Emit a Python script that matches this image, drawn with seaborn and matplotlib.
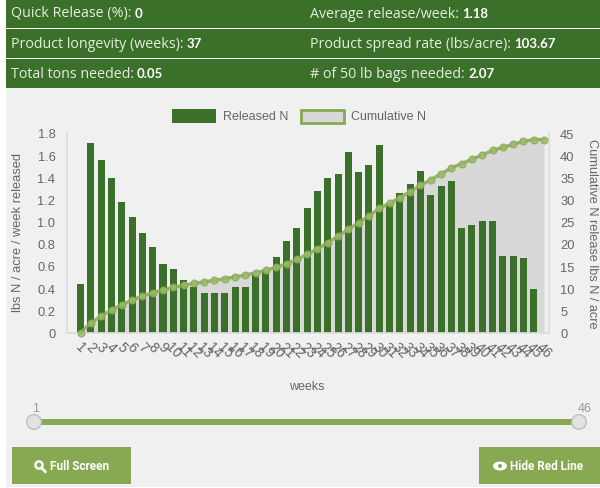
import matplotlib
matplotlib.use("Agg")
import matplotlib.pyplot as plt
from matplotlib.patches import Rectangle, Circle, Ellipse
from matplotlib.lines import Line2D
from matplotlib.transforms import ScaledTranslation
import numpy as np
import pandas as pd
import seaborn as sns

weeks = list(range(1, 47))
released = [0.44, 1.71, 1.56, 1.39, 1.18, 1.04, 0.90, 0.77, 0.62, 0.57, 0.47, 0.41, 0.36, 0.36, 0.36, 0.41,
            0.41, 0.52, 0.56, 0.68, 0.83, 0.94, 1.12, 1.28, 1.39, 1.43, 1.63, 1.45, 1.51, 1.69, 1.17, 1.26,
            1.34, 1.46, 1.24, 1.32, 1.37, 0.94, 0.97, 1.01, 1.01, 0.69, 0.69, 0.67, 0.39, 0.0]
cumulative = [0, 2.15, 3.71, 5.10, 6.28, 7.32, 8.22, 8.99, 9.61, 10.18, 10.65, 11.06, 11.42, 11.78, 12.14, 12.55,
              12.96, 13.48, 14.04, 14.72, 15.55, 16.49, 17.61, 18.89, 20.28, 21.71, 23.34, 24.79, 26.30, 27.99,
              29.16, 30.42, 31.76, 33.22, 34.46, 35.78, 37.15, 38.09, 39.06, 40.07, 41.08, 41.77, 42.46, 43.13,
              43.52, 43.52]
stats_left = [("Quick Release (%):", "0"), ("Product longevity (weeks):", "37"), ("Total tons needed:", "0.05")]
stats_right = [("Average release/week:", "1.18"), ("Product spread rate (lbs/acre):", "103.67"),
               ("# of 50 lb bags needed:", "2.07")]

W, H = 600, 489
DARK = "#3a7029"
LIGHT = "#87a951"
BG = "#f0f0f0"
GRAY = "#666666"
sns.set_theme(style="white")
plt.rcParams["font.family"] = ["Liberation Sans", "DejaVu Sans"]

fig = plt.figure(figsize=(W / 100, H / 100), dpi=100, facecolor="white")
page = fig.add_axes([0, 0, 1, 1])
page.set_xlim(0, W)
page.set_ylim(H, 0)
page.axis("off")
page.add_patch(Rectangle((6, 88), 594, 400, color=BG, lw=0))
for top, bottom in [(0, 28.5), (30, 58.5), (60, 88.5)]:
    page.add_patch(Rectangle((6, top), 594, bottom - top, color=DARK, lw=0))


def stat(x, y, pair):
    t = page.text(x, y, pair[0], color="#e4eedd", fontsize=10.3, family="Open Sans", va="center")
    fig.canvas.draw()
    box = t.get_window_extent()
    page.text(box.x1 + 3, y, pair[1], color="white", fontsize=9.5, family="Lato", weight="bold", va="center")


for yy, l, r in zip([14, 44.5, 74.5], stats_left, stats_right):
    stat(11, yy, l)
    stat(310.5, yy, r)

x0, x1, y0, y1 = 66.5, 549, 134, 333.5
ax = fig.add_axes([x0 / W, 1 - y1 / H, (x1 - x0) / W, (y1 - y0) / H])
ax.patch.set_alpha(0)
df = pd.DataFrame({"pos": np.arange(len(weeks)), "released": released, "cumulative": cumulative})
ax2 = ax.twinx()
ax2.set_zorder(1)
ax.set_zorder(2)
ax2.fill_between(df["pos"], df["cumulative"], color="#d8d8d8", lw=0)
sns.barplot(data=df, x="pos", y="released", native_scale=True, color=DARK, saturation=1, width=0.68,
            linewidth=0, ax=ax, zorder=2)
ax3 = ax.twinx()
ax3.set_zorder(3)
ax3.patch.set_alpha(0)
sns.lineplot(data=df, x="pos", y="cumulative", color=LIGHT, lw=2.4, marker="o", ms=5,
             mfc="#9dba6c", mec=LIGHT, mew=0.8, alpha=0.85, ax=ax3, errorbar=None, clip_on=False)
xlim = (-1.37, 45.48)
for a in (ax, ax2, ax3):
    a.set_xlim(*xlim)
ax.set_ylim(0, 1.8)
ax2.set_ylim(0, 45)
ax3.set_ylim(0, 45)
ax3.axis("off")
ax.set_yticks(np.arange(0, 1.81, 0.2))
ax.set_yticklabels(["0", "0.2", "0.4", "0.6", "0.8", "1.0", "1.2", "1.4", "1.6", "1.8"])
ax2.set_yticks(np.arange(0, 46, 5))
ax.set_xticks(df["pos"])
ax.set_xticklabels(weeks, rotation=-45, ha="center", color=GRAY, fontsize=10)
shift = ScaledTranslation(-3 / 100, 0, fig.dpi_scale_trans)
for lab in ax.get_xticklabels():
    lab.set_transform(lab.get_transform() + shift)
ax.tick_params(axis="x", length=0, pad=5)
ax.tick_params(axis="y", length=0, labelsize=9.3, labelcolor=GRAY, pad=8)
ax2.tick_params(axis="y", length=0, labelsize=9.3, labelcolor=GRAY, pad=8)
for a in (ax, ax2):
    for s in a.spines.values():
        s.set_visible(False)
for a, name in [(ax, "left"), (ax, "bottom"), (ax2, "right")]:
    a.spines[name].set_visible(True)
    a.spines[name].set_color("#dddddd")
for a in (ax, ax2, ax3):
    a.set_xlabel("")
    a.set_ylabel("")

page.text(18, 233, "lbs N / acre / week released", rotation=90, color=GRAY, fontsize=9.3, ha="center", va="center")
page.text(592, 234, "Cumulative N release lbs N / acre", rotation=-90, color=GRAY, fontsize=9.2, ha="center", va="center")
page.text(307, 387, "weeks", color=GRAY, fontsize=9, ha="center", va="center")

# legend
page.add_patch(Rectangle((172, 110), 44, 14, color=DARK, lw=0))
page.text(223, 116.5, "Released N", color=GRAY, fontsize=9, va="center")
page.add_patch(Rectangle((301, 111), 43, 12.5, fc="#d8d8d8", ec=LIGHT, lw=2))
page.text(351, 116.5, "Cumulative N", color=GRAY, fontsize=9, va="center")

# range slider
page.add_patch(Rectangle((34, 420), 546, 6, color=LIGHT, lw=0))
for cx, lab in [(34, "1"), (579, "46")]:
    page.add_patch(Circle((cx, 423), 7.3, fc="#e2e2e2", ec="#bdbdbd", lw=1, zorder=3))
    page.text(cx + (2 if lab == "1" else 6), 408.5, lab, color="#999999", fontsize=9, ha="center", va="center")

# buttons
for bx, bw, label, tx in [(12, 119, "Full Screen", 79.5), (479, 121, "Hide Red Line", 547)]:
    page.add_patch(Rectangle((bx, 447.5), bw, 37.5, color=LIGHT, lw=0))
    page.text(tx, 467, label, color="white", fontsize=8.5, family="Roboto",
              weight="bold", ha="center", va="center")
page.add_patch(Circle((39, 466), 3.6, fc="none", ec="white", lw=1.7))
page.add_line(Line2D([41.5, 45.5], [468.8, 472.8], color="white", lw=2))
page.add_patch(Ellipse((500, 467), 14, 9, fc="white", lw=0))
page.add_patch(Circle((500, 467), 2, fc=LIGHT, lw=0))

fig.savefig("out.png", dpi=100, facecolor="white")
